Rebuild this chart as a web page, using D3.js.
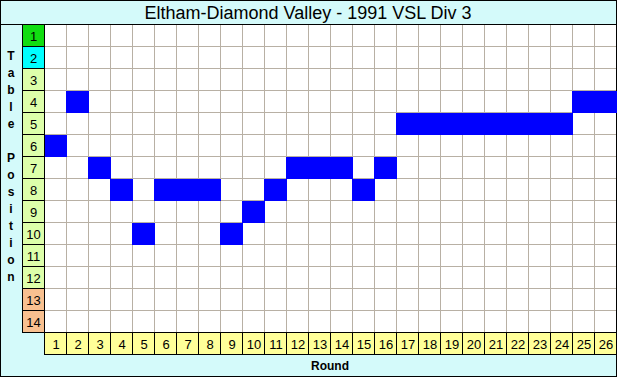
<!DOCTYPE html>
<html>
<head>
<meta charset="utf-8">
<script src="https://cdn.jsdelivr.net/npm/d3@7"></script>
<style>
  html, body { margin: 0; padding: 0; background: #fff; }
  svg { display: block; font-family: "Liberation Sans", Arial, sans-serif; }
</style>
</head>
<body>
<div id="chart"></div>
<script>
(function() {
    const title = 'Eltham-Diamond Valley - 1991 VSL Div 3';
    const rounds = d3.range(1, 27);
    const tablePositions = d3.range(1, 15);
    // ladder position after each round
    const positions = [6, 4, 7, 8, 10, 8, 8, 8, 10, 9, 8, 7, 7, 7, 8, 7, 5, 5, 5, 5, 5, 5, 5, 5, 4, 4];
    const rowColors = ['#11dd11', '#00ffff', '#ddffaa', '#ddffaa', '#ddffaa', '#ddffaa', '#ddffaa',
        '#ddffaa', '#ddffaa', '#ddffaa', '#ddffaa', '#ddffaa', '#f8c090', '#f8c090'];
    const yLetters = 'Table Position'.split('');

    const W = 617, H = 377;
    const gx0 = 44, gx1 = 616, gy0 = 24, gy1 = 332;

    const svg = d3.select('#chart').append('svg').attr('width', W).attr('height', H);

    svg.append('rect').attr('x', 0.5).attr('y', 0.5).attr('width', 616).attr('height', 376)
        .attr('fill', '#d4fafa').attr('stroke', '#000');

    svg.append('text').attr('x', W / 2 - 0.5).attr('y', 18.5).attr('text-anchor', 'middle')
        .style('font-size', '18px').text(title);
    svg.append('line').attr('x1', 0).attr('x2', 617).attr('y1', 24.5).attr('y2', 24.5).attr('stroke', '#000');

    const x = d3.scaleBand().domain(rounds).range([gx0, gx1]);
    const y = d3.scaleBand().domain(tablePositions).range([gy0, gy1]);

    // plot area
    svg.append('rect').attr('x', gx0).attr('y', gy0 + 1).attr('width', gx1 - gx0).attr('height', gy1 - gy0 - 1)
        .attr('fill', '#fff');

    const grid = svg.append('g').attr('stroke', '#b8b0a4').attr('stroke-width', 1);
    grid.selectAll('line.v').data(rounds.slice(1)).enter().append('line')
        .attr('x1', d => x(d) + 0.5).attr('x2', d => x(d) + 0.5).attr('y1', gy0 + 1).attr('y2', gy1);
    grid.selectAll('line.h').data(tablePositions.slice(1)).enter().append('line')
        .attr('y1', d => y(d) + 0.5).attr('y2', d => y(d) + 0.5).attr('x1', gx0).attr('x2', gx1);

    svg.append('g').selectAll('rect').data(positions).enter().append('rect')
        .attr('x', (d, i) => x(rounds[i])).attr('y', d => y(d) + 1)
        .attr('width', x.bandwidth() + 1).attr('height', y.bandwidth())
        .attr('fill', '#0000ff');

    // row labels
    const rl = svg.append('g');
    rl.selectAll('rect').data(tablePositions).enter().append('rect')
        .attr('x', 22.5).attr('y', d => y(d) + 0.5).attr('width', 22).attr('height', y.bandwidth())
        .attr('fill', (d, i) => rowColors[i]).attr('stroke', '#000');
    rl.selectAll('text').data(tablePositions).enter().append('text')
        .attr('x', 33.5).attr('y', d => y(d) + y.bandwidth() / 2 + 1).attr('dy', '0.35em')
        .attr('text-anchor', 'middle').style('font-size', '13px').text(d => d);

    // column labels
    const cl = svg.append('g');
    cl.selectAll('rect').data(rounds).enter().append('rect')
        .attr('x', d => x(d) + 0.5).attr('y', gy1 + 0.5).attr('width', x.bandwidth()).attr('height', 22)
        .attr('fill', '#ffff99').attr('stroke', '#000');
    cl.selectAll('text').data(rounds).enter().append('text')
        .attr('x', d => x(d) + x.bandwidth() / 2 + 1).attr('y', gy1 + 12).attr('dy', '0.35em')
        .attr('text-anchor', 'middle').style('font-size', '13px').text(d => d);

    // axis titles
    svg.append('g').selectAll('text').data(yLetters).enter().append('text')
        .attr('x', 11).attr('y', (d, i) => 56 + i * 17).attr('dy', '0.35em')
        .attr('text-anchor', 'middle').style('font-size', '12px').style('font-weight', 'bold')
        .text(d => d);
    svg.append('text').attr('x', (gx0 + gx1) / 2).attr('y', 369.5).attr('text-anchor', 'middle')
        .style('font-size', '12px').style('font-weight', 'bold').text('Round');
})();
</script>
</body>
</html>
